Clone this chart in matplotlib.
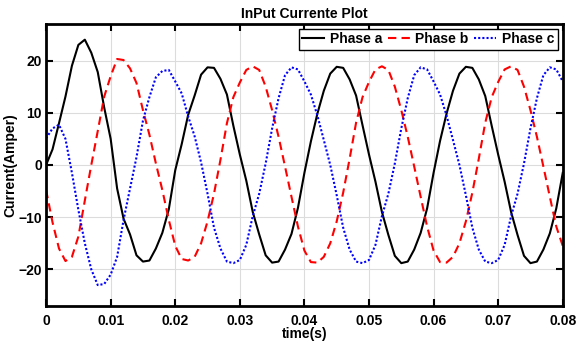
import numpy as np
import matplotlib
matplotlib.use("Agg")
import matplotlib.pyplot as plt

plt.rcParams['font.family'] = ['Liberation Sans', 'DejaVu Sans']
plt.rcParams['font.weight'] = 'bold'

# time samples, 1 ms apart
t = np.arange(0, 81) * 0.001

phase_a = [0.0, 3.0, 8.0, 13.1, 19.0, 23.0, 24.0, 21.5, 17.8, 11.0,
           5.0, -4.5, -10.3, -13.3, -17.3, -18.5, -18.3, -16.0, -13.0, -8.5,
           -1.0, 4.0, 9.6, 13.3, 17.3, 18.7, 18.6, 16.5, 13.5, 7.5,
           2.0, -3.0, -9.0, -13.3, -17.3, -18.7, -18.5, -16.2, -13.2, -8.2,
           -1.5, 4.5, 9.8, 14.2, 17.5, 18.8, 18.6, 16.4, 13.3, 7.6,
           2.0, -3.2, -9.0, -13.4, -17.4, -18.8, -18.5, -16.2, -13.0, -8.3,
           -1.5, 4.6, 9.8, 14.2, 17.5, 18.8, 18.6, 16.4, 13.2, 7.5,
           2.0, -3.2, -9.0, -13.4, -17.4, -18.8, -18.5, -16.2, -13.1, -8.3,
           -1.5]

phase_b = [-4.8, -11.0, -16.0, -18.4, -17.6, -13.7, -6.8, 0.0, 6.5, 13.1,
           17.0, 20.3, 20.1, 18.5, 15.7, 10.5, 5.8, 0.3, -4.8, -10.5,
           -15.5, -18.0, -18.3, -17.6, -15.0, -10.8, -5.5, 1.0, 8.0, 13.0,
           15.8, 18.2, 18.9, 18.2, 15.0, 10.5, 5.4, -0.3, -6.1, -11.8,
           -16.4, -18.6, -18.7, -17.6, -15.0, -10.8, -5.3, 1.2, 8.1, 13.0,
           15.9, 18.3, 18.9, 18.2, 15.0, 10.5, 5.4, -0.3, -6.1, -11.8,
           -16.4, -18.6, -18.7, -17.6, -15.0, -10.8, -5.3, 1.2, 8.1, 13.0,
           15.9, 18.3, 18.9, 18.2, 15.0, 10.5, 5.4, -0.3, -6.1, -11.8,
           -15.5]

phase_c = [5.1, 7.0, 7.7, 5.0, -1.5, -8.6, -15.0, -20.0, -23.0, -22.8,
           -21.0, -17.6, -10.5, -4.5, 1.5, 8.5, 13.0, 16.8, 18.0, 18.2,
           16.0, 13.7, 9.3, 5.5, 0.5, -5.5, -12.0, -16.0, -18.5, -18.8,
           -18.2, -15.3, -9.8, -5.5, 0.3, 7.0, 12.8, 17.2, 18.7, 18.3,
           16.0, 13.5, 9.5, 4.8, 0.0, -5.8, -12.0, -16.2, -18.5, -18.8,
           -18.2, -15.3, -9.8, -5.5, 0.3, 7.0, 12.8, 17.2, 18.7, 18.3,
           16.0, 13.5, 9.5, 4.8, 0.0, -5.8, -12.0, -16.2, -18.5, -18.8,
           -18.2, -15.3, -9.8, -5.5, 0.3, 7.0, 12.8, 17.2, 18.7, 18.3,
           16.0]

xticks = [0, 0.01, 0.02, 0.03, 0.04, 0.05, 0.06, 0.07, 0.08]
xtick_labels = ['0', '0.01', '0.02', '0.03', '0.04', '0.05', '0.06', '0.07', '0.08']
yticks = [-20, -10, 0, 10, 20]

fig = plt.figure(figsize=(5.76, 3.43), dpi=100)
ax = fig.add_axes([0.08, 0.108, 0.897, 0.822])

ax.plot(t, phase_a, color='black', lw=1.5, ls='-', label='Phase a')
ax.plot(t, phase_b, color='red', lw=1.5, ls=(0, (4, 2.5)), label='Phase b')
ax.plot(t, phase_c, color='blue', lw=1.5, ls=(0, (1, 1)), label='Phase c')

ax.set_xlim(0, 0.08)
ax.set_ylim(-27, 27)
ax.set_xticks(xticks)
ax.set_xticklabels(xtick_labels)
ax.set_yticks(yticks)
ax.grid(True, color='#dcdcdc', lw=0.8)
ax.set_axisbelow(True)
ax.tick_params(direction='in', top=True, right=True, length=5, width=1.5,
               labelsize=10)
ax.tick_params(axis='x', pad=6)
ax.tick_params(axis='y', pad=3)
for s in ax.spines.values():
    s.set_linewidth(2)

ax.set_title('InPut Currente Plot', fontsize=10, fontweight='bold', pad=4)
ax.set_xlabel('time(s)', fontsize=10, fontweight='bold', labelpad=-1)
ax.set_ylabel('Current(Amper)', fontsize=10, fontweight='bold', labelpad=1)

leg = ax.legend(loc='upper right', ncol=3, fontsize=10, handlelength=1.6,
                columnspacing=0.4, handletextpad=0.4, borderpad=0.25,
                fancybox=False, framealpha=1, borderaxespad=0.35)
leg.get_frame().set_edgecolor('black')
leg.get_frame().set_linewidth(1)

fig.savefig('out.png', dpi=100)
